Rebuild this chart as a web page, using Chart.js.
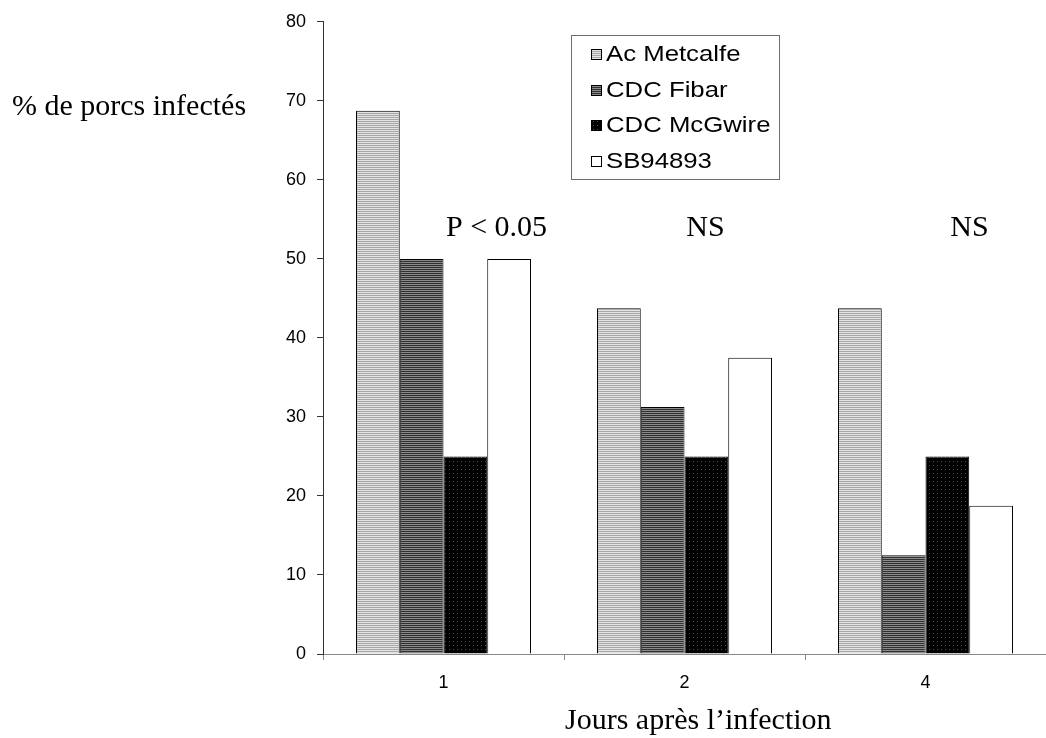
<!DOCTYPE html>
<html>
<head>
<meta charset="utf-8">
<script src="https://cdn.jsdelivr.net/npm/chart.js@4.4.1/dist/chart.umd.min.js"></script>
<style>
  html, body { margin: 0; padding: 0; background: #fff; }
  canvas { display: block; }
</style>
</head>
<body>
<canvas id="chart" width="1046" height="738"></canvas>
<script>
'use strict';

// données
const categories = ['1', '2', '4'];
const seriesNames = ['Ac Metcalfe', 'CDC Fibar', 'CDC McGwire', 'SB94893'];
const acMetcalfe = [68.75, 43.75, 43.75];
const cdcFibar = [50, 31.25, 12.5];
const cdcMcGwire = [25, 25, 25];
const sb94893 = [50, 37.5, 18.75];
const annotationTexts = ['P < 0.05', 'NS', 'NS'];
const yTitle = '% de porcs infectés';
const xTitle = 'Jours après l\u2019infection';

const SANS = '"Liberation Sans", Arial, sans-serif';
const SERIF = '"Liberation Serif", "Times New Roman", serif';

// motifs de remplissage façon Excel
function makePattern(w, h, draw) {
    let c = document.createElement('canvas');
    c.width = w;
    c.height = h;
    draw(c.getContext('2d'));
    return document.getElementById('chart').getContext('2d').createPattern(c, 'repeat');
}

const patLight = makePattern(2, 2, (g) => {
    g.fillStyle = '#e4e4e4'; g.fillRect(0, 0, 2, 1);
    g.fillStyle = '#a6a6a6'; g.fillRect(0, 1, 2, 1);
});
const patDark = makePattern(2, 2, (g) => {
    g.fillStyle = '#8a8a8a'; g.fillRect(0, 0, 2, 1);
    g.fillStyle = '#303030'; g.fillRect(0, 1, 2, 1);
});
const patDots = makePattern(4, 4, (g) => {
    g.fillStyle = '#000'; g.fillRect(0, 0, 4, 4);
    g.fillStyle = '#4a4a4a'; g.fillRect(1, 1, 1, 1);
});
const fills = [patLight, patDark, patDots, '#ffffff'];
const values = [acMetcalfe, cdcFibar, cdcMcGwire, sb94893];

// légende encadrée dans la zone du graphique
const boxLegend = {
    id: 'boxLegend',
    afterDraw(chart) {
        let ctx = chart.ctx;
        ctx.save();
        ctx.strokeStyle = '#6e6e6e';
        ctx.lineWidth = 1;
        ctx.strokeRect(571.5, 35.5, 208, 144);
        ctx.textBaseline = 'middle';
        chart.data.datasets.forEach((ds, i) => {
            let y = 54 + i * 35.5;
            ctx.fillStyle = ds.backgroundColor;
            ctx.fillRect(591, Math.round(y) - 5, 10, 10);
            ctx.strokeStyle = '#000';
            ctx.strokeRect(591.5, Math.round(y) - 4.5, 10, 10);
            // texte un peu étiré en largeur comme sur l'original
            ctx.save();
            ctx.translate(606, y + 1);
            ctx.scale(1.17, 1);
            ctx.font = '22px ' + SANS;
            ctx.fillStyle = '#000';
            ctx.fillText(ds.label, 0, 0);
            ctx.restore();
        });
        ctx.restore();
    },
};

// textes libres : titres d'axes et tests statistiques
const freeText = {
    id: 'freeText',
    afterDraw(chart) {
        let ctx = chart.ctx;
        let xs = chart.scales.x;
        let ys = chart.scales.y;
        ctx.save();
        ctx.fillStyle = '#000';
        ctx.font = '30px ' + SERIF;
        ctx.textBaseline = 'alphabetic';
        ctx.textAlign = 'left';
        ctx.fillText(yTitle, 12, 115);
        ctx.fillText(xTitle, 565, 729);
        ctx.textAlign = 'center';
        let offsets = [53, 21, 44];
        annotationTexts.forEach((t, i) => {
            ctx.fillText(t, xs.getPixelForValue(i) + offsets[i], ys.getPixelForValue(52.9));
        });
        ctx.restore();
    },
};

let datasets = seriesNames.map((name, i) => ({
    label: name,
    data: values[i],
    backgroundColor: fills[i],
    borderColor: '#000',
    borderWidth: 1,
    barPercentage: 1,
    categoryPercentage: 0.726,
}));

new Chart(document.getElementById('chart').getContext('2d'), {
    type: 'bar',
    data: { labels: categories, datasets: datasets },
    options: {
        responsive: false,
        animation: false,
        layout: { padding: { top: 20, right: 0, left: 0, bottom: 0 } },
        plugins: {
            legend: { display: false },
            tooltip: { enabled: false },
        },
        scales: {
            x: {
                grid: { drawOnChartArea: false, tickLength: 6, color: '#888' },
                border: { color: '#888' },
                ticks: { color: '#000', font: { family: SANS, size: 18 }, padding: 12 },
                afterFit(scale) { scale.height = 84; },
            },
            y: {
                min: 0,
                max: 80,
                grid: { drawOnChartArea: false, tickLength: 6, color: '#333' },
                border: { color: '#333' },
                ticks: { stepSize: 10, color: '#000', font: { family: SANS, size: 18 }, padding: 11 },
                afterFit(scale) { scale.width = 323; },
            },
        },
    },
    plugins: [boxLegend, freeText],
});
</script>
</body>
</html>
